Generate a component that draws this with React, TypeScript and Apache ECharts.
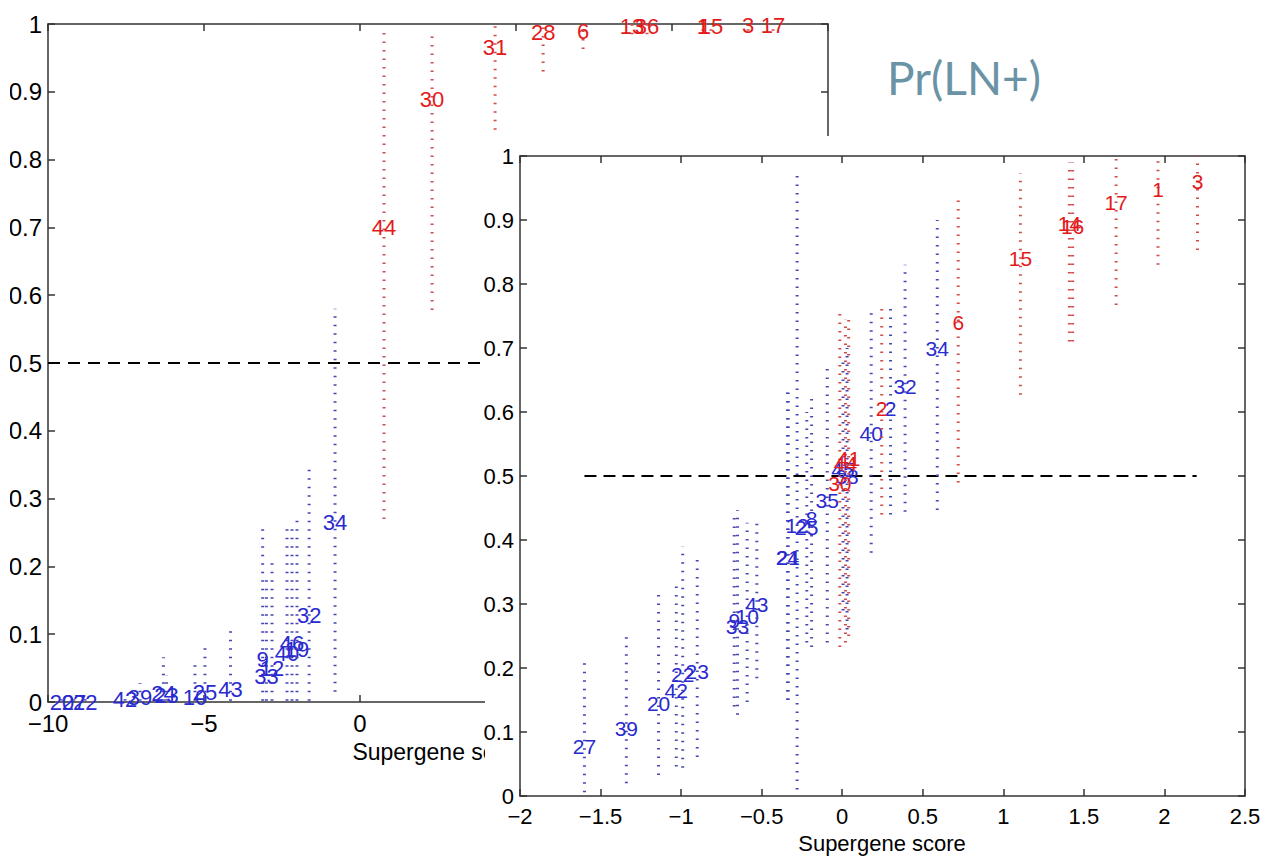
import { useEffect, useRef } from 'react';
import * as echarts from 'echarts';

// ---- Left panel (wide score range) ----
const leftPosLabels = ['44', '30', '31', '28', '6', '13', '36', '1', '15', '3', '17'];
const leftPosScores = [0.77, 2.31, 4.33, 5.87, 7.15, 8.72, 9.2, 10.99, 11.25, 12.44, 13.24];
const leftPosLow = [0.27, 0.578, 0.844, 0.93, 0.963, 0.985, 0.985, 0.99, 0.99, 0.99, 0.99];
const leftPosMid = [0.7, 0.888, 0.965, 0.987, 0.989, 0.996, 0.996, 0.997, 0.997, 0.998, 0.998];
const leftPosHigh = [0.988, 0.991, 0.998, 0.999, 1, 1, 1, 1, 1, 1, 1];

const leftNegLabels = ['20', '27', '22', '42', '39', '24', '23', '10', '25', '43', '9', '33', '12', '40', '46', '19', '32', '34'];
const leftNegScores = [-9.55, -9.17, -8.81, -7.53, -7.05, -6.3, -6.2, -5.29, -4.97, -4.15, -3.12, -3.0, -2.82, -2.34, -2.18, -2.02, -1.63, -0.8];
const leftNegLow = [0.002, 0.002, 0.002, 0.002, 0.002, 0.002, 0.002, 0.002, 0.002, 0.002, 0.002, 0.002, 0.002, 0.002, 0.002, 0.002, 0.002, 0.015];
const leftNegMid = [0.0, 0.0, 0.0, 0.003, 0.006, 0.012, 0.01, 0.006, 0.014, 0.018, 0.062, 0.037, 0.05, 0.072, 0.086, 0.078, 0.128, 0.265];
const leftNegHigh = [0.004, 0.004, 0.005, 0.012, 0.028, 0.066, 0.04, 0.06, 0.08, 0.105, 0.258, 0.183, 0.21, 0.258, 0.26, 0.273, 0.348, 0.58];

// ---- Right panel (zoomed score range) ----
const rightPosLabels = ['30', '44', '41', '2', '6', '15', '14', '16', '17', '1', '3'];
const rightPosScores = [-0.015, 0.02, 0.04, 0.245, 0.72, 1.106, 1.41, 1.43, 1.7, 1.96, 2.205];
const rightPosLow = [0.233, 0.24, 0.25, 0.44, 0.49, 0.627, 0.71, 0.71, 0.767, 0.83, 0.853];
const rightPosMid = [0.488, 0.52, 0.527, 0.606, 0.74, 0.84, 0.895, 0.89, 0.927, 0.947, 0.96];
const rightPosHigh = [0.756, 0.745, 0.75, 0.765, 0.94, 0.973, 0.99, 0.99, 1.0, 1.0, 1.0];

const rightNegLabels = ['27', '39', '20', '42', '22', '23', '33', '9', '10', '43', '24', '21', '12', '25', '8', '35', '45', '38', '40', '2', '32', '34'];
const rightNegScores = [-1.6, -1.34, -1.14, -1.03, -0.99, -0.9, -0.65, -0.67, -0.59, -0.53, -0.34, -0.335, -0.28, -0.22, -0.19, -0.093, 0.005, 0.03, 0.18, 0.3, 0.39, 0.59];
const rightNegLow = [0.006, 0.02, 0.033, 0.046, 0.044, 0.061, 0.127, 0.14, 0.147, 0.184, 0.15, 0.15, 0.01, 0.24, 0.233, 0.24, 0.29, 0.26, 0.38, 0.44, 0.444, 0.447];
const rightNegMid = [0.077, 0.106, 0.145, 0.165, 0.19, 0.194, 0.265, 0.275, 0.28, 0.3, 0.372, 0.372, 0.423, 0.42, 0.434, 0.4625, 0.51, 0.5, 0.567, 0.606, 0.64, 0.7];
const rightNegHigh = [0.212, 0.25, 0.314, 0.328, 0.39, 0.369, 0.447, 0.44, 0.427, 0.428, 0.64, 0.63, 0.97, 0.6, 0.63, 0.677, 0.686, 0.7, 0.755, 0.765, 0.83, 0.9];

// Decision threshold
const threshold = 0.5;
const leftThresholdSpan = [-10, 13.24];
const rightThresholdSpan = [-1.6, 2.2];

const leftXTicks = { min: -10, max: 15, step: 5 };
const rightXTicks = { min: -2, max: 2.5, step: 0.5 };

const RED = '#e31a1c';
const BLUE = '#2a2acf';
const RED_DOT = '#d24a4a';
const BLUE_DOT = '#4646b4';
const FONT = '"Liberation Sans", Arial, sans-serif';

type Item = { label: string; score: number; lo: number; mid: number; hi: number };

function zipItems(labels: string[], scores: number[], lo: number[], mid: number[], hi: number[]): Item[] {
  return labels.map((label, i) => ({ label, score: scores[i], lo: lo[i], mid: mid[i], hi: hi[i] }));
}

function intervalSeries(
  name: string,
  axisIndex: number,
  items: Item[],
  color: string,
  dotColor: string,
  fontSize: number,
  z: number,
) {
  return {
    type: 'custom',
    name,
    xAxisIndex: axisIndex,
    yAxisIndex: axisIndex,
    z,
    clip: false,
    encode: { x: 0, y: [1, 2, 3] },
    data: items.map((d) => [d.score, d.lo, d.mid, d.hi]),
    renderItem: (params: any, api: any) => {
      const it = items[params.dataIndex];
      const x = api.value(0);
      const pLo = api.coord([x, api.value(1)]);
      const pMid = api.coord([x, api.value(2)]);
      const pHi = api.coord([x, api.value(3)]);
      return {
        type: 'group',
        children: [
          {
            type: 'line',
            shape: { x1: pLo[0], y1: pLo[1], x2: pHi[0], y2: pHi[1] },
            style: { stroke: dotColor, lineWidth: 3, lineDash: [1.5, 7] },
          },
          {
            type: 'text',
            x: pMid[0],
            y: pMid[1],
            style: {
              text: it.label,
              fill: color,
              fontSize,
              fontFamily: FONT,
              align: 'center',
              verticalAlign: 'middle',
            },
          },
        ],
      };
    },
  };
}

const minusFmt = (v: number) => String(Math.round(v * 100) / 100).replace('-', '\u2212');
const probFmt = (v: number) => (v === 0 || v === 1 ? String(v) : v.toFixed(1));

const axisLineStyle = { color: '#333', width: 1.5 };

function xAxes(gridIndex: number, t: { min: number; max: number; step: number }, fontSize: number, z: number) {
  const line = { show: true, onZero: false, lineStyle: axisLineStyle };
  const tick = { show: true, inside: true, length: 7, lineStyle: axisLineStyle };
  const base = { gridIndex, type: 'value', min: t.min, max: t.max, interval: t.step, splitLine: { show: false }, axisLine: line, axisTick: tick, z };
  return [
    {
      ...base,
      position: 'bottom',
      axisLabel: { show: true, color: '#000', fontSize, fontFamily: FONT, margin: 9, formatter: minusFmt, showMinLabel: true, showMaxLabel: true },
    },
    { ...base, position: 'top', axisLabel: { show: false } },
  ];
}

function yAxes(gridIndex: number, fontSize: number, z: number) {
  const line = { show: true, onZero: false, lineStyle: axisLineStyle };
  const tick = { show: true, inside: true, length: 7, lineStyle: axisLineStyle };
  const base = { gridIndex, type: 'value', min: 0, max: 1, interval: 0.1, splitLine: { show: false }, axisLine: line, axisTick: tick, z };
  return [
    {
      ...base,
      position: 'left',
      axisLabel: { show: true, color: '#000', fontSize, fontFamily: FONT, margin: 6, formatter: probFmt, showMinLabel: true, showMaxLabel: true },
    },
    { ...base, position: 'right', axisLabel: { show: false } },
  ];
}

export default function App() {
  const ref = useRef<HTMLDivElement>(null);

  useEffect(() => {
    if (!ref.current) return;
    const chart = echarts.init(ref.current, undefined, { renderer: 'svg' });

    const leftPos = zipItems(leftPosLabels, leftPosScores, leftPosLow, leftPosMid, leftPosHigh);
    const leftNeg = zipItems(leftNegLabels, leftNegScores, leftNegLow, leftNegMid, leftNegHigh);
    const rightPos = zipItems(rightPosLabels, rightPosScores, rightPosLow, rightPosMid, rightPosHigh);
    const rightNeg = zipItems(rightNegLabels, rightNegScores, rightNegLow, rightNegMid, rightNegHigh);

    const xa = [...xAxes(0, leftXTicks, 24, 0), ...xAxes(1, rightXTicks, 22, 60)];
    const ya = [...yAxes(0, 24, 0), ...yAxes(1, 22, 60)];

    chart.setOption({
      animation: false,
      backgroundColor: '#fff',
      grid: [
        { left: 48, top: 24, width: 780, height: 678 },
        { left: 520, top: 156, width: 725, height: 640 },
      ],
      xAxis: xa,
      yAxis: ya,
      series: [
        {
          type: 'line',
          xAxisIndex: 0,
          yAxisIndex: 0,
          z: 1,
          symbol: 'none',
          data: leftThresholdSpan.map((x) => [x, threshold]),
          lineStyle: { color: '#000', width: 2, type: [12, 8] },
        },
        intervalSeries('left-neg', 0, leftNeg, BLUE, BLUE_DOT, 22, 3),
        intervalSeries('left-pos', 0, leftPos, RED, RED_DOT, 22, 4),
        {
          type: 'line',
          xAxisIndex: 2,
          yAxisIndex: 2,
          z: 65,
          symbol: 'none',
          data: rightThresholdSpan.map((x) => [x, threshold]),
          lineStyle: { color: '#000', width: 2, type: [12, 7] },
        },
        intervalSeries('right-neg', 2, rightNeg, BLUE, BLUE_DOT, 21, 70),
        intervalSeries('right-pos', 2, rightPos, RED, RED_DOT, 21, 71),
      ],
      graphic: {
        elements: [
          {
            type: 'text',
            z: 1,
            x: 440,
            y: 752,
            style: { text: 'Supergene score', fontSize: 23, fontFamily: FONT, fill: '#000', align: 'center', verticalAlign: 'middle' },
          },
          // left edge of the first panel is trimmed
          {
            type: 'rect',
            z: 50,
            shape: { x: 0, y: 60, width: 10, height: 600 },
            style: { fill: '#fff' },
          },
          // second panel sits on top of the first one
          {
            type: 'rect',
            z: 50,
            shape: { x: 485, y: 136, width: 780, height: 726 },
            style: { fill: '#fff' },
          },
          {
            type: 'text',
            z: 80,
            x: 882,
            y: 843,
            style: { text: 'Supergene score', fontSize: 22, fontFamily: FONT, fill: '#000', align: 'center', verticalAlign: 'middle' },
          },
          {
            type: 'text',
            z: 100,
            x: 964,
            y: 77,
            style: { text: 'Pr(LN+)', fontSize: 46, fontFamily: 'Lato, sans-serif', fill: '#6b93a6', align: 'center', verticalAlign: 'middle' },
          },
        ],
      },
    });

    return () => chart.dispose();
  }, []);

  return (
    <div
      ref={ref}
      style={{ position: 'absolute', left: 0, top: 0, width: 1265, height: 862, background: '#fff' }}
    />
  );
}
